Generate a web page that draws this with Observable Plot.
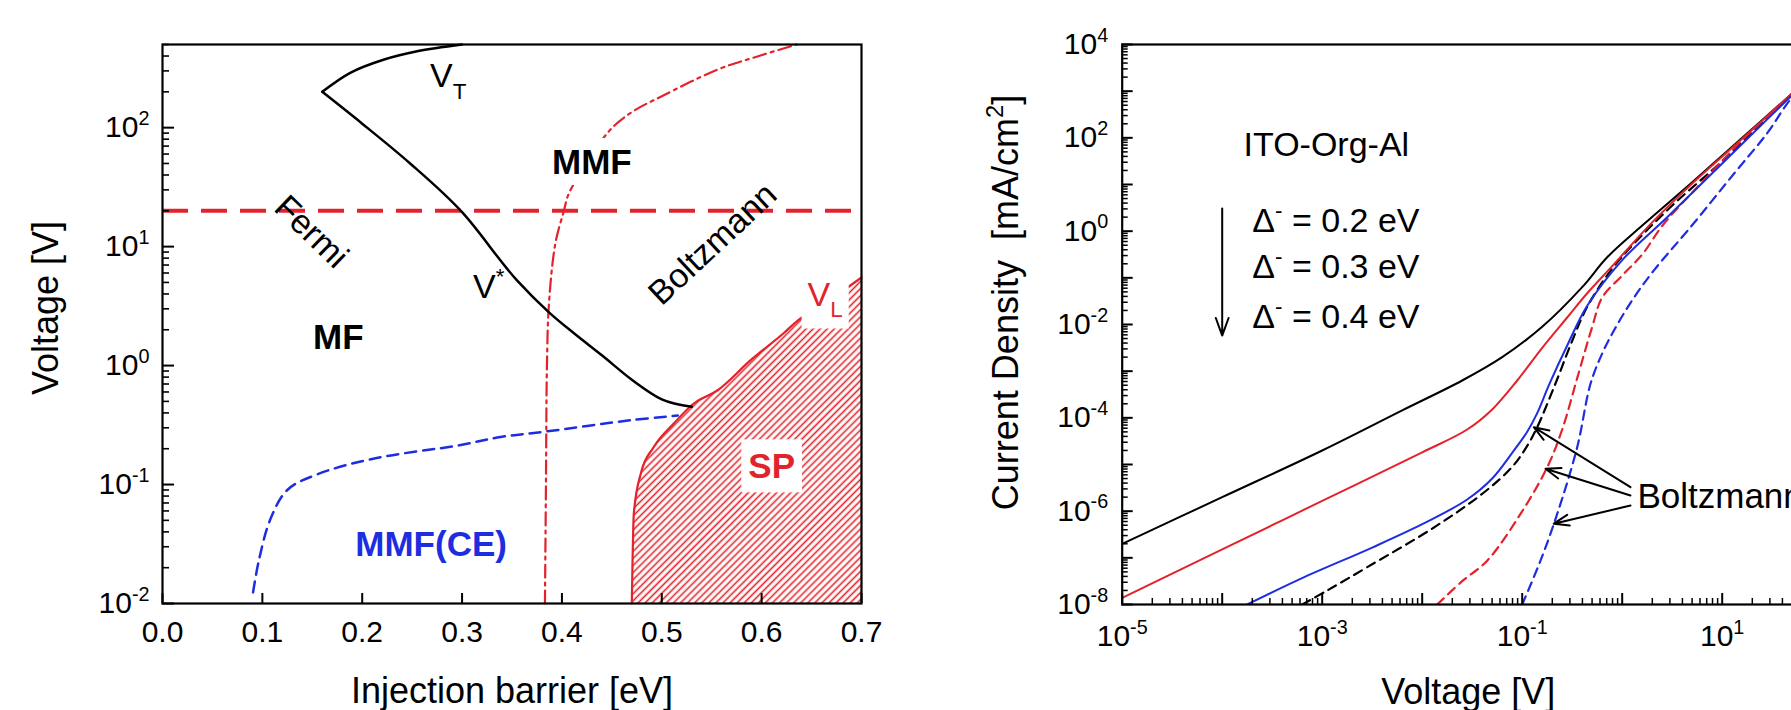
<!DOCTYPE html>
<html>
<head>
<meta charset="utf-8">
<script src="https://cdn.jsdelivr.net/npm/d3@7"></script>
<script src="https://cdn.jsdelivr.net/npm/@observablehq/plot@0.6"></script>
<style>
  html, body { margin: 0; padding: 0; background: #fff; overflow: hidden; }
  #figure { position: relative; width: 1791px; height: 710px; overflow: hidden; background: #fff; }
  #figure svg { position: absolute; top: 0; }
</style>
</head>
<body>
<div id="figure"></div>
<script>
const SVG_NS = "http://www.w3.org/2000/svg";
const RED = "#e3232b";
const BLUE = "#1f2de0";
const FONT = "'Liberation Sans', Arial, Helvetica, sans-serif";

// ---------------- Left panel: operating regimes vs. injection barrier ----------------
const barrierTicks = [0, 0.1, 0.2, 0.3, 0.4, 0.5, 0.6, 0.7];
const voltageDecades = [0.01, 0.1, 1, 10, 100];
const voltageDecadeLabels = ["10^{-2}", "10^{-1}", "10^{0}", "10^{1}", "10^{2}"];

// V_T branch (upper black curve), from the top edge down to the cusp
const vtBarrier = [0.300, 0.255, 0.222, 0.188, 0.160];
const vtVoltage = [500, 439, 374, 289, 200];
// V* branch (black curve), from the cusp down to where it meets V_L
const vStarBarrier = [0.160, 0.200, 0.248, 0.300, 0.355, 0.387, 0.413, 0.440, 0.470, 0.500, 0.530];
const vStarVoltage = [200, 108, 50, 19.5, 5.2, 2.8, 1.84, 1.22, 0.76, 0.52, 0.45];
// MMF(CE) boundary (blue dashed)
const ceBarrier = [0.0907, 0.0965, 0.108, 0.125, 0.154, 0.211, 0.2975, 0.3385, 0.384, 0.470, 0.516];
const ceVoltage = [0.0124, 0.023, 0.051, 0.09, 0.121, 0.165, 0.214, 0.251, 0.279, 0.348, 0.38];
// Fermi / Boltzmann boundary (red dash-dot)
const fbBarrier = [0.383, 0.384, 0.385, 0.387, 0.3935, 0.402, 0.407, 0.447, 0.470, 0.499, 0.556, 0.595, 0.635];
const fbVoltage = [0.01, 0.1, 1.0, 3.3, 10.7, 20, 28, 93, 135, 182, 308, 395, 500];
// V_L: upper edge of the space-charge (SP) region
const vlBarrier = [0.470, 0.472, 0.479, 0.492, 0.512, 0.532, 0.556, 0.589, 0.622, 0.637, 0.660, 0.700];
const vlVoltage = [0.01, 0.057, 0.124, 0.207, 0.326, 0.48, 0.62, 1.11, 1.87, 2.42, 3.2, 5.5];
// Horizontal Fermi limit (red dashed)
const fermiLimitVoltage = [20];

const regimeNames = ["MF", "MMF", "MMF(CE)", "SP"];
const regimeBarrier = [0.176, 0.430, 0.269, 0.610];
const regimeVoltage = [1.70, 50.7, 0.0314, 0.140];
const regimeColors = ["black", "black", BLUE, RED];

const curveNames = ["V_{T}", "V^{*}", "V_{L}"];
const curveNameBarrier = [0.268, 0.311, 0.646];
const curveNameVoltage = [269, 4.58, 3.89];
const curveNameColors = ["black", "black", RED];

const statNames = ["Fermi", "Boltzmann"];
const statBarrier = [0.149, 0.551];
const statVoltage = [13.3, 10.5];
const statAngles = [44, -43];

// ---------------- Right panel: J–V characteristics (log10 of V and J) ----------------
const jvMajorLabelsV = [1e-5, 1e-3, 1e-1, 1e1];
const jvMajorTextV = ["10^{-5}", "10^{-3}", "10^{-1}", "10^{1}"];
const jvMajorLabelsJ = [1e4, 1e2, 1, 1e-2, 1e-4, 1e-6, 1e-8];
const jvMajorTextJ = ["10^{4}", "10^{2}", "10^{0}", "10^{-2}", "10^{-4}", "10^{-6}", "10^{-8}"];

// Fermi statistics (solid), barrier 0.2 / 0.3 / 0.4 eV
const fermi02LogV = [-5, -4, -3, -2.2, -1.6, -1.2, -0.8, -0.4, -0.15, 0.2, 0.7, 1.2, 1.693, 2];
const fermi02LogJ = [-6.70, -5.70, -4.70, -3.84, -3.20, -2.70, -2.05, -1.20, -0.56, 0.12, 1.05, 2.00, 2.94, 3.52];
const fermi03LogV = [-5, -4, -3, -2, -1.55, -1.3, -1.05, -0.8, -0.55, -0.35, -0.1, 0.283, 0.7, 1.2, 1.693, 2];
const fermi03LogJ = [-7.86, -6.82, -5.78, -4.74, -4.25, -3.82, -3.20, -2.50, -1.85, -1.33, -0.75, 0.15, 1.02, 1.98, 2.94, 3.52];
const fermi04LogV = [-3.75, -3.217, -2.5, -2.0, -1.55, -1.3, -1.1, -0.95, -0.85, -0.733, -0.55, -0.35, 0.0, 0.45, 1.0, 1.693, 2];
const fermi04LogJ = [-8.0, -7.45, -6.78, -6.28, -5.75, -5.30, -4.75, -4.30, -3.90, -3.30, -2.45, -1.60, -0.62, 0.30, 1.45, 2.90, 3.50];
// Boltzmann approximation (dashed), same barriers
const boltz02LogV = [-3.2, -2.95, -2.55, -1.883, -1.383, -1.1, -0.95, -0.85, -0.683, -0.5, -0.35, -0.1, 0.117, 0.5, 1.0, 1.693, 2];
const boltz02LogJ = [-8.0, -7.70, -7.20, -6.35, -5.60, -5.05, -4.60, -4.20, -3.35, -2.35, -1.62, -0.80, -0.27, 0.55, 1.50, 2.92, 3.50];
const boltz03LogV = [-1.85, -1.6, -1.35, -1.017, -0.75, -0.6, -0.45, -0.3, -0.2, 0.0, 0.2, 0.417, 0.8, 1.2, 1.693, 2];
const boltz03LogJ = [-8.0, -7.5, -7.06, -6.06, -5.06, -4.25, -3.15, -2.05, -1.42, -0.95, -0.50, 0.16, 1.05, 1.95, 2.92, 3.50];
const boltz04LogV = [-1.0, -0.817, -0.65, -0.45, -0.317, -0.2, -0.083, 0.1, 0.317, 0.683, 1.117, 1.45, 1.693, 2];
const boltz04LogJ = [-8.0, -7.06, -6.06, -4.63, -3.27, -2.62, -2.13, -1.48, -0.84, 0.085, 1.23, 2.10, 2.85, 3.48];

const deviceName = ["ITO-Org-Al"];
const deviceNameV = [1.1e-3];
const deviceNameJ = [68.5];
const barrierNames = ["Δ^{-} = 0.2 eV", "Δ^{-} = 0.3 eV", "Δ^{-} = 0.4 eV"];
const barrierNameV = [2.0e-4, 2.0e-4, 2.0e-4];
const barrierNameJ = [1.61, 0.167, 0.0141];
const trendArrowV = [1e-4];
const trendArrowTopJ = [3.06];
const trendArrowBottomJ = [0.0058];

const boltzmannNote = ["Boltzmann"];
const boltzmannNoteV = [1.42];
const boltzmannNoteJ = [2.07e-6];
const pointerTailV = [1.21, 1.21, 1.21];
const pointerTailJ = [3.27e-6, 2.17e-6, 1.32e-6];
const pointerTipV = [0.1306, 0.171, 0.207];
const pointerTipJ = [6.3e-5, 8.1e-6, 5.4e-7];

// ---------------- helpers ----------------
const rows = (xs, ys) => xs.map((x, i) => ({x, y: ys[i]}));
const logRows = (lx, ly) => lx.map((x, i) => ({x: 10 ** x, y: 10 ** ly[i]}));
function logTicks(e0, e1) {
  const out = [];
  for (let e = e0; e < e1; e++) for (let k = 1; k <= 9; k++) out.push(+(k * 10 ** e).toPrecision(6));
  out.push(10 ** e1);
  return out;
}
const isDecade = (v) => Math.abs(Math.log10(v) - Math.round(Math.log10(v))) < 1e-9;

// Turn ^{..} and _{..} into raised / lowered tspans
function applyScripts(svg) {
  svg.querySelectorAll("text").forEach((t) => {
    const src = t.textContent;
    if (!/[\^_]\{/.test(src)) return;
    const size = parseFloat(getComputedStyle(t).fontSize) || 30;
    const parts = src.split(/([\^_]\{[^}]*\})/).filter((p) => p !== "");
    while (t.firstChild) t.removeChild(t.firstChild);
    let level = 0;
    for (const p of parts) {
      const m = p.match(/^([\^_])\{([^}]*)\}$/);
      const ts = document.createElementNS(SVG_NS, "tspan");
      const target = m ? (m[1] === "^" ? -0.42 * size : 0.33 * size) : 0;
      ts.setAttribute("dy", (target - level).toFixed(2));
      level = target;
      if (m) {
        ts.setAttribute("font-size", (0.66 * size).toFixed(1));
        ts.textContent = m[2];
      } else {
        ts.textContent = p;
      }
      t.appendChild(ts);
    }
  });
}

// White background boxes behind labels that sit on top of other marks
function boxLabels(svg, pads) {
  svg.querySelectorAll("text").forEach((t) => {
    const pad = pads[t.textContent];
    if (pad == null) return;
    const b = t.getBBox();
    const r = document.createElementNS(SVG_NS, "rect");
    r.setAttribute("x", b.x - pad);
    r.setAttribute("y", b.y - pad);
    r.setAttribute("width", b.width + 2 * pad);
    r.setAttribute("height", b.height + 2 * pad);
    r.setAttribute("fill", "white");
    r.setAttribute("stroke", "none");
    const tr = t.getAttribute("transform");
    if (tr) r.setAttribute("transform", tr);
    t.parentNode.insertBefore(r, t);
  });
}

const baseStyle = {background: "transparent", fontFamily: FONT, overflow: "visible", color: "black"};
const centered = {textAnchor: "middle", lineAnchor: "middle"};

// ---------------- left panel ----------------
const L = {width: 900, height: 710, left: 162, right: 39, top: 44, bottom: 107};
const LW = L.width - L.left - L.right;
const LH = L.height - L.top - L.bottom;
const vTicks = logTicks(-2, 3).filter((v) => v <= 500);

const left = Plot.plot({
  width: L.width, height: L.height,
  marginLeft: L.left, marginRight: L.right, marginTop: L.top, marginBottom: L.bottom,
  style: baseStyle,
  x: {domain: [0, 0.7], axis: null},
  y: {type: "log", domain: [0.01, 500], axis: null},
  color: {type: "identity"},
  marks: [
    Plot.areaY(rows(vlBarrier, vlVoltage), {x: "x", y1: 0.01, y2: "y", fill: "url(#sp-hatch)", curve: "monotone-x"}),
    Plot.line(rows(vlBarrier, vlVoltage), {x: "x", y: "y", stroke: RED, strokeWidth: 2.2, curve: "monotone-x"}),
    Plot.ruleY(fermiLimitVoltage, {y: (d) => d, stroke: RED, strokeWidth: 4, strokeDasharray: "26,13"}),
    Plot.line(rows(ceBarrier, ceVoltage), {x: "x", y: "y", stroke: BLUE, strokeWidth: 2.5, strokeDasharray: "11,7", curve: "catmull-rom"}),
    Plot.line(rows(fbBarrier, fbVoltage), {x: "x", y: "y", stroke: RED, strokeWidth: 2.2, strokeDasharray: "13,5,3,5", curve: "catmull-rom"}),
    Plot.line(rows(vtBarrier, vtVoltage), {x: "x", y: "y", stroke: "black", strokeWidth: 2.5, curve: "catmull-rom"}),
    Plot.line(rows(vStarBarrier, vStarVoltage), {x: "x", y: "y", stroke: "black", strokeWidth: 2.5, curve: "monotone-x"}),
    // inward ticks
    Plot.tickX(barrierTicks, {x: (d) => d, insetTop: LH - 10, strokeWidth: 2}),
    Plot.tickY(vTicks.filter(isDecade), {y: (d) => d, insetRight: LW - 12, strokeWidth: 2}),
    Plot.tickY(vTicks.filter((v) => !isDecade(v)), {y: (d) => d, insetRight: LW - 7, strokeWidth: 1.6}),
    Plot.frame({strokeWidth: 2.2}),
    // tick labels
    Plot.text(barrierTicks, {x: (d) => d, text: (d) => d.toFixed(1), frameAnchor: "bottom", dy: 29, fontSize: 30, ...centered}),
    Plot.text(voltageDecades, {y: (d) => d, text: (d, i) => voltageDecadeLabels[i], frameAnchor: "left", textAnchor: "end", lineAnchor: "middle", dx: -13, fontSize: 30}),
    // axis titles
    Plot.text(["Injection barrier [eV]"], {text: (d) => d, frameAnchor: "bottom", dy: 88, fontSize: 36, ...centered}),
    Plot.text(["Voltage [V]"], {text: (d) => d, frameAnchor: "left", dx: -116, dy: -16, rotate: -90, fontSize: 36, ...centered}),
    // annotations
    Plot.text(statNames, {x: (d, i) => statBarrier[i], y: (d, i) => statVoltage[i], text: (d) => d, rotate: (d, i) => statAngles[i], fontSize: 34, ...centered}),
    Plot.text(curveNames, {x: (d, i) => curveNameBarrier[i], y: (d, i) => curveNameVoltage[i], text: (d) => d, fill: (d, i) => curveNameColors[i], textAnchor: "start", lineAnchor: "middle", fontSize: 34}),
    Plot.text(regimeNames, {x: (d, i) => regimeBarrier[i], y: (d, i) => regimeVoltage[i], text: (d) => d, fill: (d, i) => regimeColors[i], fontWeight: "bold", fontSize: 35, ...centered})
  ]
});

// ---------------- right panel ----------------
const R = {x: 900, width: 932, left: 221.7, right: 10.3, top: 44, bottom: 106};
const RW = R.width - R.left - R.right;
const RH = 710 - R.top - R.bottom;
const jvVTicks = logTicks(-5, 2);
const jvJTicks = logTicks(-8, 4);

const solid = {strokeWidth: 2, curve: "catmull-rom", clip: true};
const dashed = {strokeWidth: 2.2, strokeDasharray: "9,6", curve: "catmull-rom", clip: true};

const right = Plot.plot({
  width: R.width, height: 710,
  marginLeft: R.left, marginRight: R.right, marginTop: R.top, marginBottom: R.bottom,
  style: baseStyle,
  x: {type: "log", domain: [1e-5, 1e2], axis: null},
  y: {type: "log", domain: [1e-8, 1e4], axis: null},
  marks: [
    Plot.line(logRows(boltz02LogV, boltz02LogJ), {x: "x", y: "y", stroke: "black", ...dashed}),
    Plot.line(logRows(boltz03LogV, boltz03LogJ), {x: "x", y: "y", stroke: RED, ...dashed}),
    Plot.line(logRows(boltz04LogV, boltz04LogJ), {x: "x", y: "y", stroke: BLUE, ...dashed}),
    Plot.line(logRows(fermi02LogV, fermi02LogJ), {x: "x", y: "y", stroke: "black", ...solid}),
    Plot.line(logRows(fermi03LogV, fermi03LogJ), {x: "x", y: "y", stroke: RED, ...solid}),
    Plot.line(logRows(fermi04LogV, fermi04LogJ), {x: "x", y: "y", stroke: BLUE, ...solid}),
    // inward ticks
    Plot.tickX(jvVTicks.filter(isDecade), {x: (d) => d, insetTop: RH - 11, strokeWidth: 2}),
    Plot.tickX(jvVTicks.filter((v) => !isDecade(v)), {x: (d) => d, insetTop: RH - 6, strokeWidth: 1.5}),
    Plot.tickY(jvJTicks.filter(isDecade), {y: (d) => d, insetRight: RW - 11, strokeWidth: 2}),
    Plot.tickY(jvJTicks.filter((v) => !isDecade(v)), {y: (d) => d, insetRight: RW - 6, strokeWidth: 1.5}),
    Plot.frame({strokeWidth: 2.2}),
    // tick labels
    Plot.text(jvMajorLabelsV, {x: (d) => d, text: (d, i) => jvMajorTextV[i], frameAnchor: "bottom", dy: 32, fontSize: 30, ...centered}),
    Plot.text(jvMajorLabelsJ, {y: (d) => d, text: (d, i) => jvMajorTextJ[i], frameAnchor: "left", textAnchor: "end", lineAnchor: "middle", dx: -14, fontSize: 30}),
    // axis titles
    Plot.text(["Voltage [V]"], {text: (d) => d, frameAnchor: "bottom", dx: -4, dy: 88, fontSize: 36, ...centered}),
    Plot.text(["Current Density\u00a0 [mA/cm^{2}]"], {text: (d) => d, frameAnchor: "left", dx: -116, dy: -22, rotate: -90, fontSize: 36, ...centered}),
    // annotations
    Plot.text(deviceName, {x: (d, i) => deviceNameV[i], y: (d, i) => deviceNameJ[i], text: (d) => d, fontSize: 34, ...centered}),
    Plot.text(barrierNames, {x: (d, i) => barrierNameV[i], y: (d, i) => barrierNameJ[i], text: (d) => d, textAnchor: "start", lineAnchor: "middle", fontSize: 34}),
    Plot.arrow(trendArrowV, {x1: (d) => d, x2: (d) => d, y1: (d, i) => trendArrowTopJ[i], y2: (d, i) => trendArrowBottomJ[i], strokeWidth: 2, headLength: 14, headAngle: 40}),
    Plot.arrow(pointerTailV, {x1: (d) => d, y1: (d, i) => pointerTailJ[i], x2: (d, i) => pointerTipV[i], y2: (d, i) => pointerTipJ[i], strokeWidth: 2, headLength: 12, headAngle: 40}),
    Plot.text(boltzmannNote, {x: (d, i) => boltzmannNoteV[i], y: (d, i) => boltzmannNoteJ[i], text: (d) => d, textAnchor: "start", lineAnchor: "middle", fontSize: 35})
  ]
});

// ---------------- assemble ----------------
const fig = document.getElementById("figure");
left.style.left = "0px";
right.style.left = R.x + "px";
fig.appendChild(left);
fig.appendChild(right);

// diagonal hatching for the SP region
const defs = d3.select(left).insert("defs", ":first-child");
const pat = defs.append("pattern")
  .attr("id", "sp-hatch")
  .attr("patternUnits", "userSpaceOnUse")
  .attr("width", 5)
  .attr("height", 5)
  .attr("patternTransform", "rotate(45)");
pat.append("line")
  .attr("x1", 2.5).attr("y1", -1).attr("x2", 2.5).attr("y2", 6)
  .attr("stroke", RED).attr("stroke-width", 1.6);

applyScripts(left);
applyScripts(right);
boxLabels(left, {"MMF": 4, "SP": 7, "VL": 6});
</script>
</body>
</html>
